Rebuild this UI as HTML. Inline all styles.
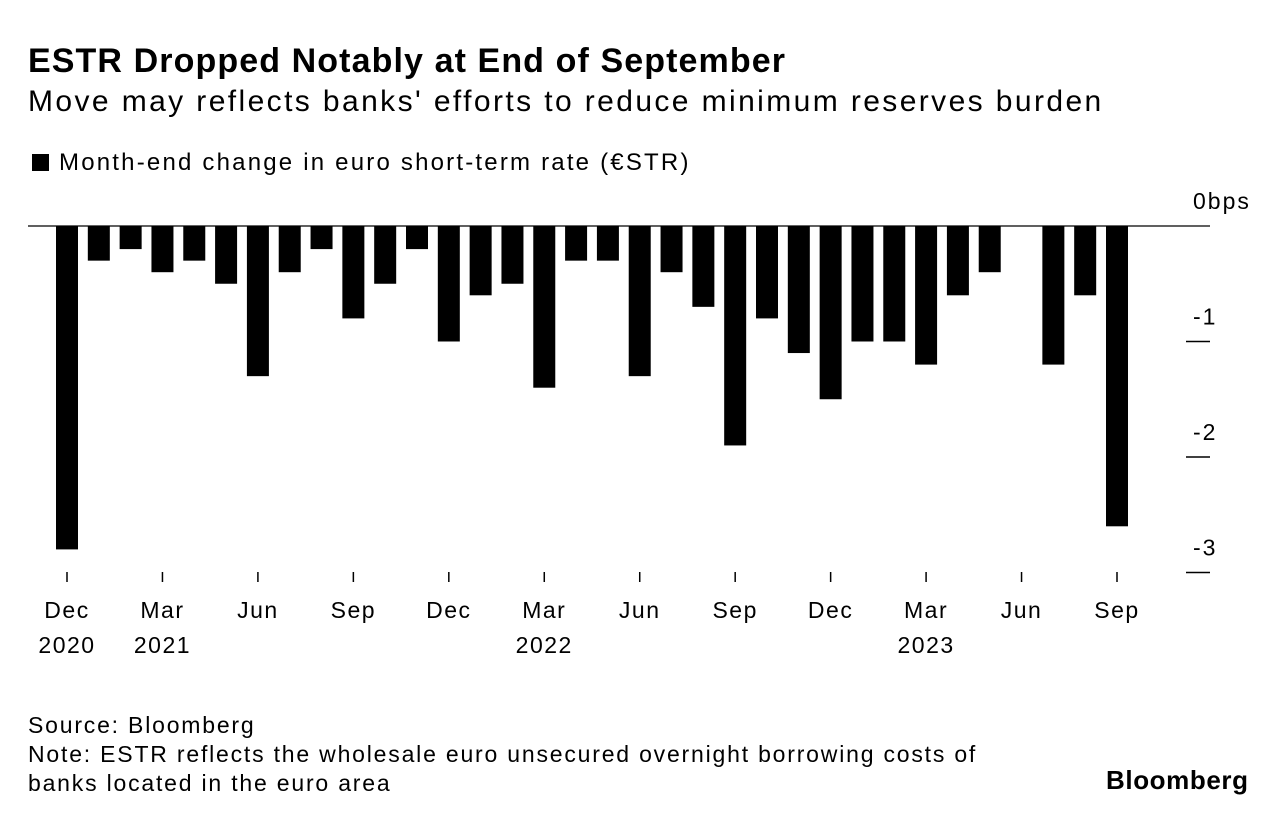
<!DOCTYPE html>
<html><head><meta charset="utf-8"><style>
body{margin:0;background:#fff;font-family:"Liberation Sans",sans-serif;color:#000}
.wrap{position:relative;width:1286px;height:826px;overflow:hidden}
.t{position:absolute;white-space:nowrap}
</style></head><body><div class="wrap">
<div class="t" style="left:28px;top:42px;font-size:34px;font-weight:bold;letter-spacing:1.1px">ESTR Dropped Notably at End of September</div>
<div class="t" style="left:28px;top:85px;font-size:30px;letter-spacing:2.4px">Move may reflects banks' efforts to reduce minimum reserves burden</div>
<div class="t" style="left:32px;top:149px;font-size:24px;letter-spacing:2.2px"><span style="display:inline-block;width:17px;height:17px;background:#000;margin-right:10px;vertical-align:-1px"></span>Month-end change in euro short-term rate (€STR)</div>
<svg id="chart" width="1286" height="826" style="position:absolute;left:0;top:0"></svg>
<div class="t" style="left:28px;top:711px;font-size:23px;line-height:29px;letter-spacing:1.8px">Source: Bloomberg<br>Note: ESTR reflects the wholesale euro unsecured overnight borrowing costs of<br>banks located in the euro area</div>
<div class="t" style="left:1106px;top:765px;font-size:26px;font-weight:bold;letter-spacing:0.6px">Bloomberg</div>
</div>
<script>
const values=[-2.8,-0.3,-0.2,-0.4,-0.3,-0.5,-1.3,-0.4,-0.2,-0.8,-0.5,-0.2,-1.0,-0.6,-0.5,-1.4,-0.3,-0.3,-1.3,-0.4,-0.7,-1.9,-0.8,-1.1,-1.5,-1.0,-1.0,-1.2,-0.6,-0.4,0,-1.2,-0.6,-2.6];
const monthLabels=["Dec","Mar","Jun","Sep","Dec","Mar","Jun","Sep","Dec","Mar","Jun","Sep"];
const yearLabels=["2020","2021","","","","2022","","","","2023","",""];
const yTicks=[0,-1,-2,-3];
const svg=document.getElementById('chart');const NS='http://www.w3.org/2000/svg';
const x=i=>67+i*(1117-67)/33;
const y=v=>226-v*115.5;
function mk(t,a){const e=document.createElementNS(NS,t);for(const k in a)e.setAttribute(k,a[k]);svg.appendChild(e);return e;}
values.forEach((v,i)=>{if(v===0)return;
const r=mk('rect',{x:x(i)-11,y:y(0),width:22,height:y(v)-y(0),fill:'#000'});

});
const zl=mk('line',{x1:28,x2:1210,y1:y(0),y2:y(0),stroke:'#000','stroke-width':1.2});


yTicks.forEach(v=>{
if(v!==0){const l=mk('line',{x1:1186,x2:1210,y1:y(v),y2:y(v),stroke:'#000','stroke-width':1.5});

}
const t=mk('text',{x:1193,y:y(v)-17,'font-size':23,'letter-spacing':2,'font-family':'Liberation Sans'});
t.textContent=v===0?'0bps':String(v);

});
monthLabels.forEach((m,k)=>{const cx=x(k*3);
const l=mk('line',{x1:cx,x2:cx,y1:572,y2:582,stroke:'#000','stroke-width':1.5});


const t=mk('text',{x:cx,y:618,'font-size':23,'letter-spacing':1.5,'text-anchor':'middle','font-family':'Liberation Sans'});t.textContent=m;


if(yearLabels[k]){const t2=mk('text',{x:cx,y:653,'font-size':23,'letter-spacing':1.5,'text-anchor':'middle','font-family':'Liberation Sans'});t2.textContent=yearLabels[k];

}});
</script></body></html>
